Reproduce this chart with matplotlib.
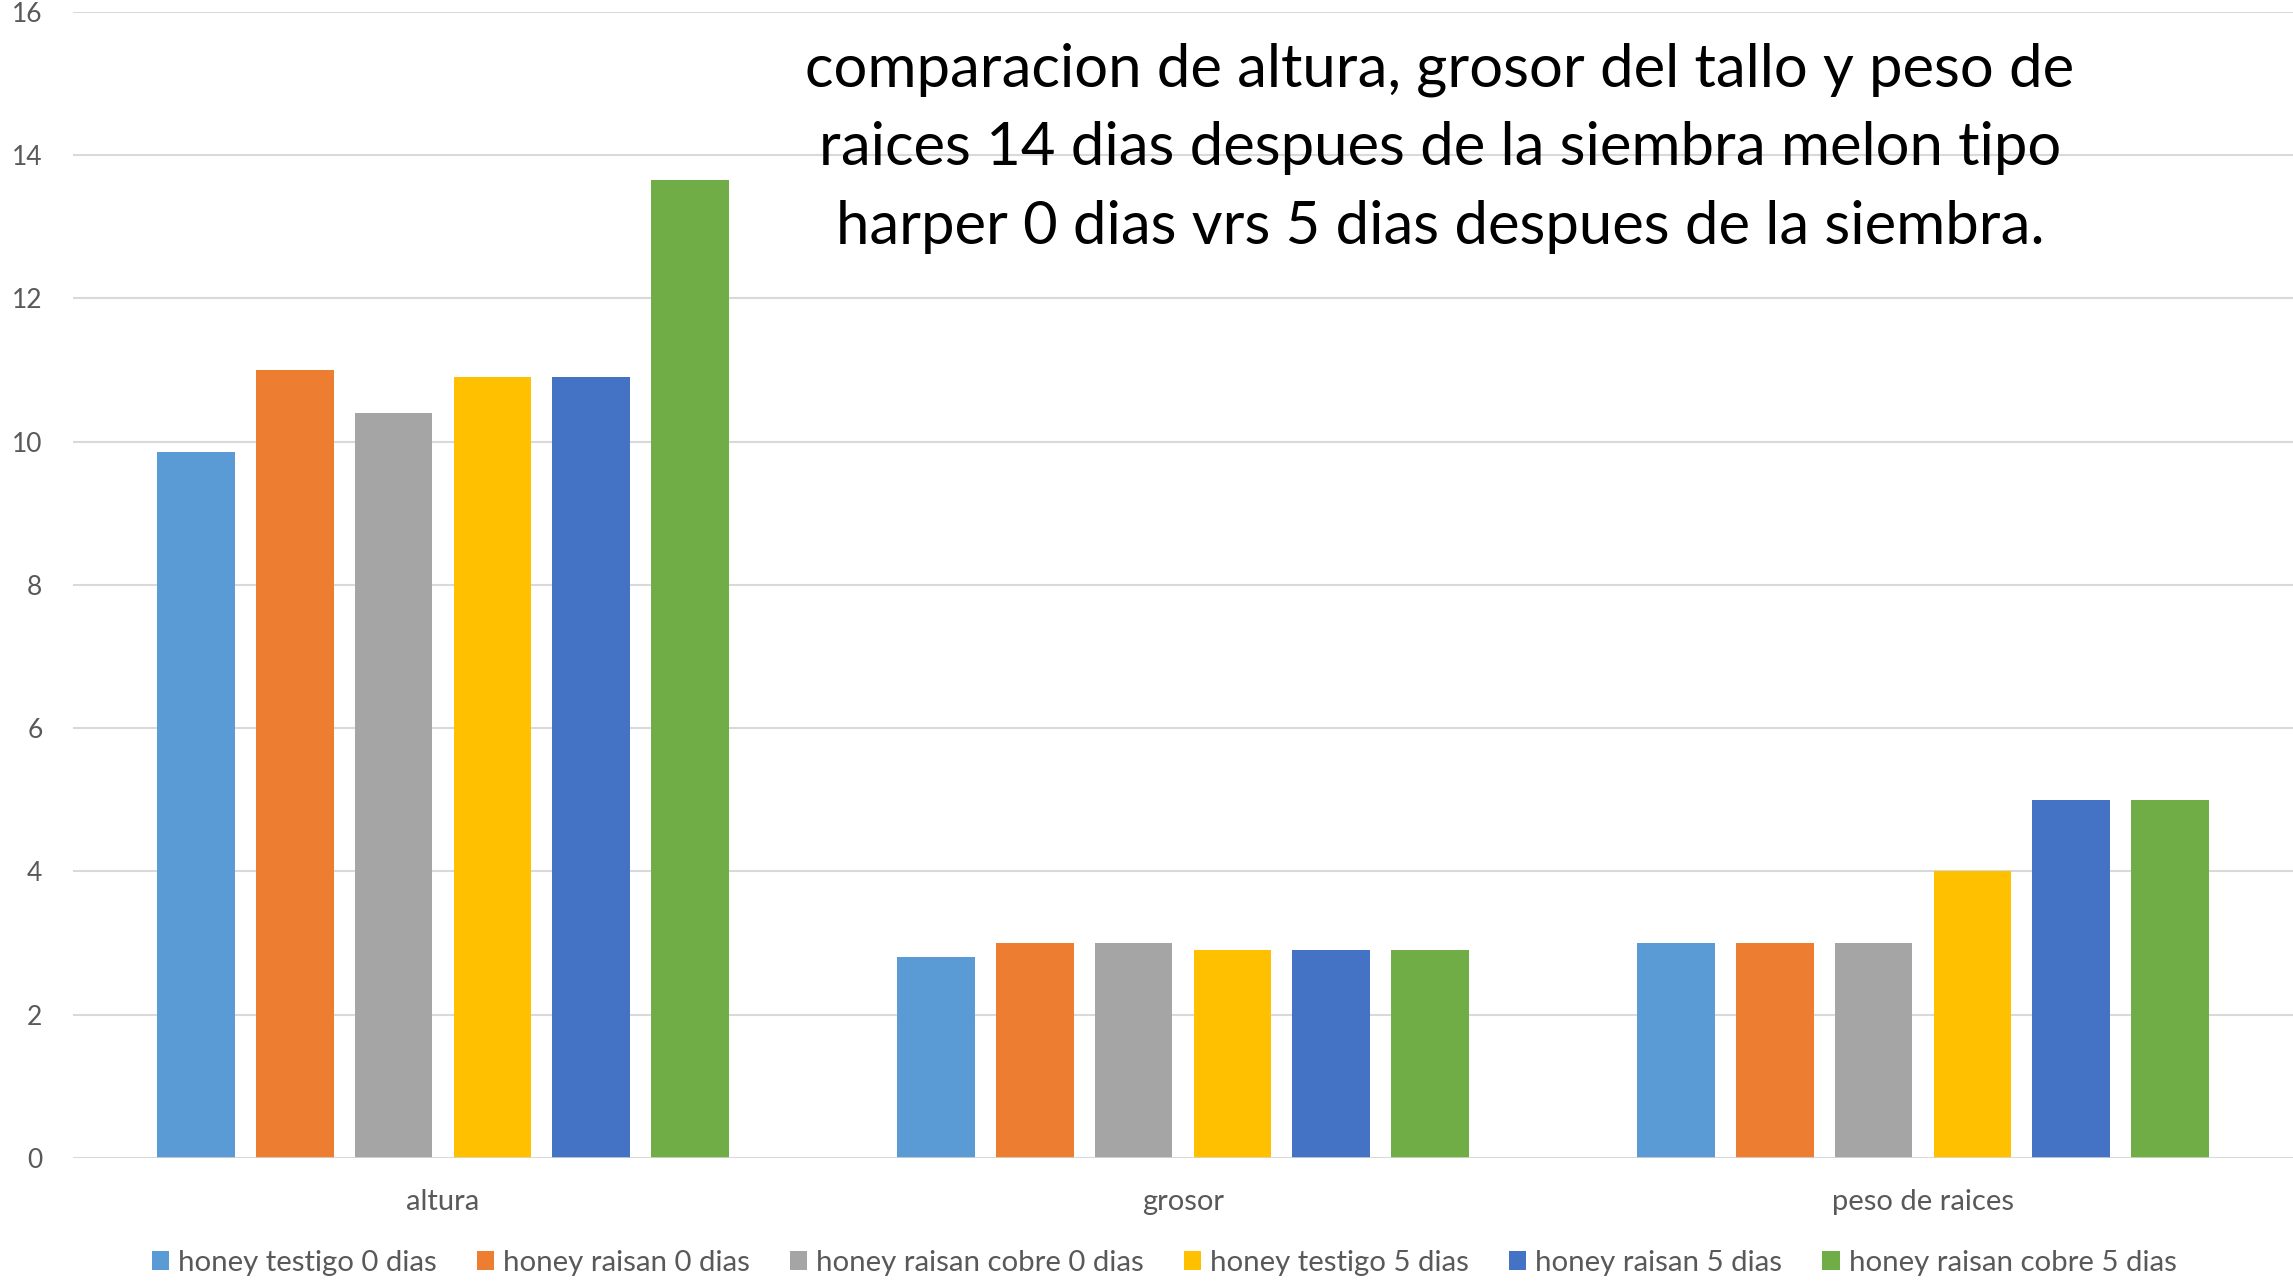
import matplotlib.pyplot as plt
import numpy as np
from matplotlib.patches import Patch

categories = ["altura", "grosor", "peso de raices"]
series_names = [
    "honey testigo 0 dias",
    "honey raisan 0 dias",
    "honey raisan cobre 0 dias",
    "honey testigo 5 dias",
    "honey raisan 5 dias",
    "honey raisan cobre 5 dias",
]
series_values = [
    [9.85, 2.8, 3],
    [11.0, 3.0, 3],
    [10.4, 3.0, 3],
    [10.9, 2.9, 4],
    [10.9, 2.9, 5],
    [13.65, 2.9, 5],
]
colors = ["#5B9BD5", "#ED7D31", "#A5A5A5", "#FFC000", "#4472C4", "#70AD47"]
yticks = [0, 2, 4, 6, 8, 10, 12, 14, 16]
title = ("comparacion de altura, grosor del tallo y peso de\n"
         "raices 14 dias despues de la siembra melon tipo\n"
         "harper 0 dias vrs 5 dias despues de la siembra.")

plt.rcParams["font.family"] = ["Lato", "DejaVu Sans"]

W, H = 2293, 1282
fig = plt.figure(figsize=(W / 100, H / 100), dpi=100)
ax = fig.add_axes([73 / W, 1 - 1158 / H, (W - 73) / W, (1158 - 11.7) / H])

x = np.arange(len(categories))
pitch = 0.1334
width = 0.1047
n = len(series_names)
for i, (name, vals, c) in enumerate(zip(series_names, series_values, colors)):
    ax.bar(x + (i - (n - 1) / 2) * pitch, vals, width=width, color=c,
           label=name, zorder=3)

ax.set_xlim(-0.5, len(categories) - 0.5)
ax.set_ylim(0, 16)
ax.set_yticks(yticks)
ax.set_xticks(x, categories)
for s in ax.spines.values():
    s.set_visible(False)
ax.yaxis.grid(True, color="#D9D9D9", linewidth=1.5, zorder=0)
ax.axhline(0, color="#D9D9D9", linewidth=1.8, zorder=4)
ax.tick_params(axis="y", length=0, pad=22, labelsize=19, labelcolor="#595959")
ax.tick_params(axis="x", length=0, pad=22, labelsize=21, labelcolor="#595959")

ax.text(1440 / W, 1 - 148 / H, title, transform=fig.transFigure,
        ha="center", va="center", fontsize=43, color="black",
        linespacing=1.56)

handles = [Patch(facecolor=c, edgecolor="none") for c in colors]
fig.legend(handles, series_names, loc="center", ncol=6,
           bbox_to_anchor=(1164 / W, 1 - 1263 / H), frameon=False,
           fontsize=21.2, labelcolor="#595959", handlelength=0.6,
           handleheight=0.6, handletextpad=0.3, columnspacing=1.35)

fig.savefig("out.png", dpi=100)
